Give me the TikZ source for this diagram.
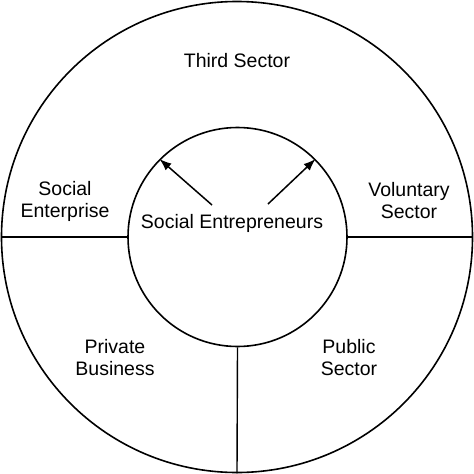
\documentclass[tikz,border=0pt]{standalone}
\usepackage{fontspec}
\setmainfont{Liberation Sans}
\usetikzlibrary{arrows.meta}
\begin{document}
\begin{tikzpicture}[x=1pt,y=-1pt,
  ring/.style={circle,draw,line width=1.6pt,inner sep=0pt},
  sep/.style={line width=1.4pt},
  lbl/.style={font=\fontsize{19.5}{22}\selectfont,align=center,inner sep=0pt},
  arr/.style={line width=1.5pt,-{Latex[length=12pt,width=9pt]}}]
\useasboundingbox (0,0) rectangle (474,474);
\fill[white] (0,0) rectangle (474,474);
\node[ring,minimum size=471pt] (outer) at (237,237) {};
\node[ring,minimum size=219pt] (inner) at (237.5,237) {};
\draw[sep] (inner.west) -- (outer.west);
\draw[sep] (inner.east) -- (outer.east);
\draw[sep] (inner.south) -- (outer.south);
\node[lbl] (third) at (237,61) {Third Sector};
\node[lbl] (se) at (65,201) {Social\\Enterprise};
\node[lbl] (vs) at (409,201) {Voluntary\\Sector};
\node[lbl] (pb) at (115,357.5) {Private\\Business};
\node[lbl] (ps) at (349,357.5) {Public\\Sector};
\node[lbl] (ent) at (232,223) {Social Entrepreneurs};
\coordinate (a1) at (212,205);
\coordinate (a2) at (268,204);
\draw[arr] (a1) -- (inner.135);
\draw[arr] (a2) -- (inner.45);
\end{tikzpicture}
\end{document}
